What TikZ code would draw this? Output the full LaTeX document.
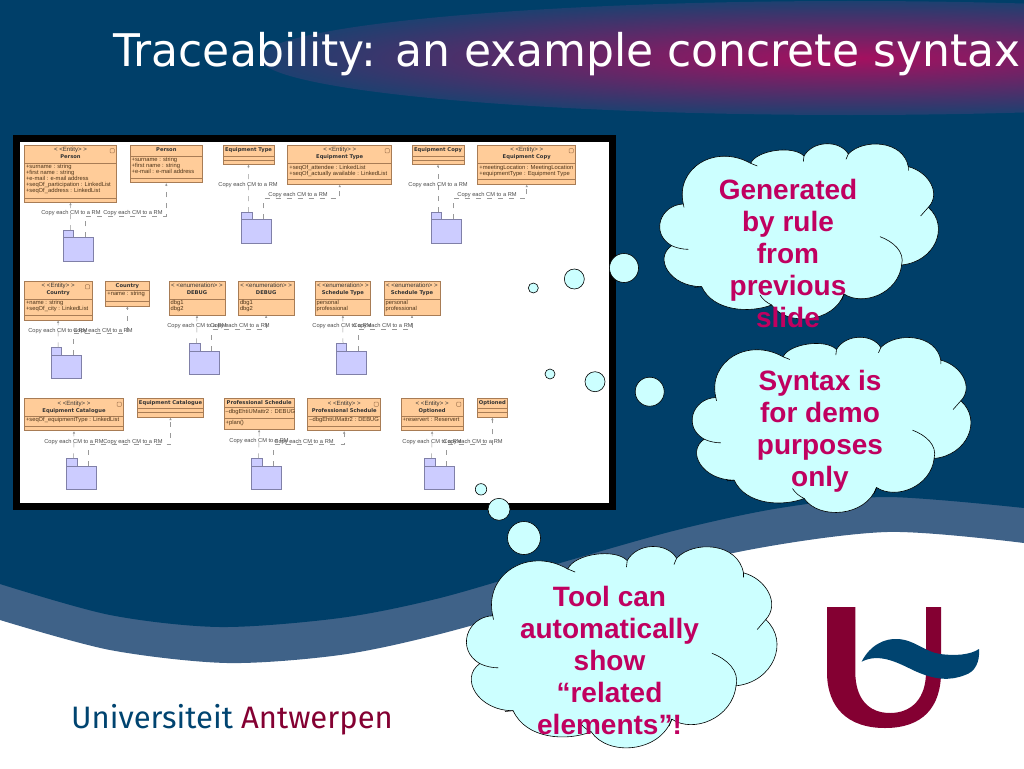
\documentclass[tikz,border=0pt]{standalone}
\usepackage{fontspec}
\usepackage{tikz}
\usetikzlibrary{arrows.meta,calc,fit}
\newfontfamily\titlefont{DejaVu Sans}
\newfontfamily\umlfont{Liberation Sans}
\newfontfamily\logofont{Fira Sans}
\definecolor{slideblue}{HTML}{003F69}
\definecolor{bandblue}{HTML}{3F6288}
\definecolor{titlepink}{HTML}{A5105F}
\definecolor{titleedge}{HTML}{1E4070}
\definecolor{cloudfill}{HTML}{CCFFFF}
\definecolor{cloudtext}{HTML}{C00060}
\definecolor{classfill}{HTML}{FFCC99}
\definecolor{classline}{HTML}{A87C55}
\definecolor{foldfill}{HTML}{CCCCFF}
\definecolor{foldline}{HTML}{8080A8}
\definecolor{logored}{HTML}{840032}
\definecolor{logoblue}{HTML}{004470}
\tikzset{
  classbox/.style={draw=classline, fill=classfill, line width=0.7pt, inner sep=0pt},
  classrule/.style={draw=classline, line width=0.6pt},
  classhead/.style={anchor=north, inner sep=2.2pt, align=center, text=black!80, font=\umlfont\fontsize{6.1}{7.2}\selectfont},
  classattr/.style={anchor=north west, inner sep=1.5pt, align=left, text=black!60!brown, font=\umlfont\fontsize{5.8}{6}\selectfont},
  entitymark/.style={draw=classline, line width=0.5pt, rounded corners=0.8pt},
  folderbox/.style={draw=foldline, fill=foldfill, line width=0.6pt, inner sep=0pt},
  copyline/.style={draw=black!40, line width=0.5pt, dash pattern=on 5pt off 6pt, -{Latex[length=2.5pt,width=2.5pt]}},
  copylabel/.style={inner sep=0pt, text=black!70, font=\umlfont\fontsize{5.7}{6}\selectfont},
  cloud/.style={draw=black, fill=cloudfill, line width=0.6pt},
  cloudrule/.style={draw=black, line width=0.6pt},
  cloudnote/.style={align=center, text=cloudtext, inner sep=0pt, font=\umlfont\bfseries\fontsize{28}{32}\selectfont},
  bubble/.style={draw=black, fill=cloudfill, line width=0.6pt}
}
\newcommand{\umlclass}[9]{
  \node (#1) [classbox, fit={(#2,#3) (#4,#5)}] {};
  \draw[classrule] (#2,#6) -- (#4,#6) (#2,#7) -- (#4,#7);
  \node (#1-head) [classhead] at (#1.north) {#8};
  \node (#1-attr) [classattr] at (#2,#6) {#9};
}
\newcommand{\umlfolder}[3]{
  \node (#1-tab) [folderbox, anchor=north west, minimum width=10.3pt, minimum height=7.3pt] at (#2,#3) {};
  \node (#1) [folderbox, anchor=north west, minimum width=30pt, minimum height=23.3pt] at (#2,#3+7.3) {};
  \coordinate (#1-a) at (#2+7.3,#3);
  \coordinate (#1-b) at (#2+22.3,#3+7.3);
}
\newcommand{\stereo}[2]{< <#1> >\\{\titlefont\bfseries\fontsize{5.2}{7}\selectfont #2}}
\newcommand{\plainname}[1]{{\titlefont\bfseries\fontsize{5.2}{7}\selectfont #1}}
\newcommand{\cloudshape}{
  \draw[cloud] (250,222) .. controls (225,115) and (345,40) .. (452,100)
    .. controls (470,60) and (580,45) .. (612,78)
    .. controls (640,30) and (720,30) .. (745,72)
    .. controls (790,25) and (910,30) .. (925,110)
    .. controls (985,125) and (1025,190) .. (985,232)
    .. controls (1050,290) and (1005,395) .. (905,405)
    .. controls (895,490) and (790,530) .. (732,492)
    .. controls (700,580) and (560,590) .. (515,525)
    .. controls (450,550) and (340,545) .. (305,470)
    .. controls (210,470) and (160,385) .. (215,347)
    .. controls (150,310) and (180,225) .. (250,222) -- cycle;
  \draw[cloudrule] (452,100) -- (472,108) (612,78) -- (610,95) (745,72) -- (738,88)
    (925,110) -- (925,122) (985,232) -- (962,258) (732,492) -- (725,510)
    (305,470) -- (283,472) (250,222) -- (252,232)
    (840,320) .. controls (880,335) and (915,365) .. (905,405)
    (515,525) .. controls (500,518) and (488,508) .. (480,495)
    (215,347) .. controls (232,355) and (250,358) .. (265,358);
}
\begin{document}
\begin{tikzpicture}[x=1pt,y=-1pt]
  \useasboundingbox (0,0) rectangle (1024,768);
  \fill[white] (0,0) rectangle (1024,768);
  \fill[bandblue] (0,0) -- plot[smooth] coordinates {(0,620) (110,650) (227,663) (340,655) (440,634) (590,592) (738,552) (887,532) (1024,543)} -- (1024,0) -- cycle;
  \fill[slideblue] (0,0) -- plot[smooth] coordinates {(0,584) (110,615) (220,627) (340,618) (440,598) (560,563) (677,530) (780,508) (887,497) (1024,508)} -- (1024,0) -- cycle;
  \begin{scope}
    \clip (0,0) rectangle (1024,130);
    \shade[inner color=titlepink, outer color=titleedge] (850,58) ellipse (590 and 57);
  \end{scope}
  \node (title) [anchor=west, inner sep=0pt, text=white, xscale=0.978, transform shape, font=\titlefont\fontsize{45}{50}\selectfont] at (113,54) {Traceability: an example concrete syntax};

  \fill[black] (13,135) rectangle (616,510);
  \fill[white] (20,142) rectangle (609,503);

  \umlclass{persone}{24.3}{145.3}{116.7}{202.3}{163}{198}{\stereo{Entity}{Person}}{+surname : string\\+first name : string\\+e-mail : e-mail address\\+seqOf\_participation : LinkedList\\+seqOf\_address : LinkedList}
  \umlclass{person}{130}{145.3}{202.7}{182.7}{156}{178}{\plainname{Person}}{+surname : string\\+first name : string\\+e-mail : e-mail address}
  \umlclass{equiptype}{223}{145.3}{274}{164.3}{156}{160}{\plainname{Equipment Type}}{}
  \umlclass{equiptypee}{287.7}{145.3}{391.7}{184.3}{163.5}{179}{\stereo{Entity}{Equipment Type}}{+seqOf\_attendee : LinkedList\\+seqOf\_actually available : LinkedList}
  \umlclass{equipcopy}{412}{145.3}{464}{164.3}{156}{160}{\plainname{Equipment Copy}}{}
  \umlclass{equipcopye}{477.7}{145.3}{575.7}{184.3}{163.5}{179}{\stereo{Entity}{Equipment Copy}}{+meetingLocation : MeetingLocation\\+equipmentType : Equipment Type}

  \umlclass{countrye}{24.3}{281.3}{92}{320}{299}{315}{\stereo{Entity}{Country}}{+name : string\\+seqOf\_city : LinkedList}
  \umlclass{country}{105.7}{281.3}{149}{306}{290}{301}{\plainname{Country}}{+name : string}
  \umlclass{debuga}{169}{281.3}{225}{315}{299}{315}{\stereo{enumeration}{DEBUG}}{dbg1\\dbg2}
  \umlclass{debugb}{238.3}{281.3}{294}{315}{299}{315}{\stereo{enumeration}{DEBUG}}{dbg1\\dbg2}
  \umlclass{schedtypea}{315}{281.3}{370.7}{315}{299}{315}{\stereo{enumeration}{Schedule Type}}{personal\\professional}
  \umlclass{schedtypeb}{384}{281.3}{440}{315}{299}{315}{\stereo{enumeration}{Schedule Type}}{personal\\professional}

  \umlclass{cataloguee}{24.3}{398.7}{123.7}{430.7}{416}{426}{\stereo{Entity}{Equipment Catalogue}}{+seqOf\_equipmentType : LinkedList}
  \umlclass{catalogue}{137.3}{398.7}{203.7}{417.3}{408.3}{412.7}{\plainname{Equipment Catalogue}}{}
  \umlclass{profsched}{224}{398.7}{294.3}{429.3}{407.3}{418.3}{\plainname{Professional Schedule}}{–dbgEhtiUMattr2 : DEBUG}
  \node (profplan) [classattr] at (224,418.3) {+plan()};
  \umlclass{profschede}{307.7}{398.7}{380.7}{430.7}{416}{426}{\stereo{Entity}{Professional Schedule}}{–dbgEhtiUMattr2 : DEBUG}
  \umlclass{optionede}{401}{398.7}{463.3}{430.7}{416}{426}{\stereo{Entity}{Optioned}}{+reservert : Reservert}
  \umlclass{optioned}{477}{398.7}{507.7}{417.3}{408.3}{412.7}{\plainname{Optioned}}{}

  \foreach \b in {persone,equiptypee,equipcopye,countrye,cataloguee,profschede,optionede}{
    \draw[entitymark] ($(\b.north east)+(-7,3.7)$) rectangle ++(4.3,4.3);
  }

  \umlfolder{folda}{63}{230}
  \umlfolder{foldb}{241.3}{212}
  \umlfolder{foldc}{430.7}{212}
  \umlfolder{foldd}{50.7}{347.3}
  \umlfolder{folde}{189.3}{343.3}
  \umlfolder{foldf}{335.7}{343.3}
  \umlfolder{foldg}{66.3}{458.3}
  \umlfolder{foldh}{251.3}{458.3}
  \umlfolder{foldi}{424.3}{458.3}

  \foreach \c/\f in {persone/folda,equiptype/foldb,equipcopy/foldc,countrye/foldd,debuga/folde,schedtypea/foldf,cataloguee/foldg,profsched/foldh,optionede/foldi}{
    \draw[copyline] (\f-a) -- (\c.south);
  }
  \foreach \c/\f in {person/folda,equiptypee/foldb,equipcopye/foldc,country/foldd,debugb/folde,schedtypeb/foldf,catalogue/foldg,profschede/foldh,optioned/foldi}{
    \draw[copyline] (\f-b) -- ++(0,-21) -| (\c.south);
  }
  \foreach \i/\x/\y in {1/71/213,2/133/213,3/248/185,4/298/195,5/438/185,6/487/195,7/58/330.7,8/103/330.7,9/197/326,10/240/326,11/342/326,12/383/326,13/74/441.7,14/133/441.7,15/259/440.7,16/304/441.7,17/432/441.7,18/473/441.7}{
    \node (copy\i) [copylabel] at (\x,\y) {Copy each CM to a RM};
  }

  \draw[bubble] (533.3,288) circle (5);
  \draw[bubble] (574.3,279) circle (10);
  \draw[bubble] (624,268) circle (14.5);
  \draw[bubble] (550,374) circle (5);
  \draw[bubble] (595,381.7) circle (10);
  \draw[bubble] (649.7,391.7) circle (14.5);
  \draw[bubble] (481,489.3) circle (5.7);
  \draw[bubble] (499,509.3) circle (11);
  \draw[bubble] (524,538) circle (16.5);

  \begin{scope}[shift={(600,130)},scale=0.3333]
    \cloudshape
  \end{scope}
  \begin{scope}[shift={(632.5,323.5)},scale=0.3333]
    \cloudshape
  \end{scope}
  \begin{scope}[shift={(399.9,530.7)},xscale=0.3714,yscale=0.383]
    \cloudshape
  \end{scope}
  \node (rulenote) [cloudnote] at (788,253) {Generated\\by rule\\from\\previous\\slide};
  \node (syntaxnote) [cloudnote] at (820,431) {Syntax is\\for demo\\purposes\\only};
  \node (toolnote) [cloudnote] at (609.5,660) {Tool can\\automatically\\show\\“related\\elements”!};

  \fill[logored] (827,607) -- (855.3,607) -- (855.3,672) .. controls (855.3,698) and (868,713) .. (890,713) .. controls (912,713) and (926,698) .. (926,672) -- (926,607) -- (941,607) -- (941,672) .. controls (941,708) and (922,728) .. (885,728) .. controls (848,728) and (827,708) .. (827,672) -- cycle;
  \fill[logoblue] (861.6,661.7) .. controls (870,645) and (885,638) .. (898,639) .. controls (915,640) and (925,652) .. (940,654) .. controls (955,656) and (970,655) .. (979,649) .. controls (980,662) and (975,672) .. (965,675) .. controls (950,681) and (935,680) .. (915,671) .. controls (900,664) and (880,652) .. (861.6,661.7) -- cycle;
  \node (unilogo) [anchor=base west, inner sep=0pt, font=\logofont\fontsize{31}{36}\selectfont] at (71,728) {\textcolor{logoblue}{Universiteit} \textcolor{logored}{Antwerpen}};
\end{tikzpicture}
\end{document}
